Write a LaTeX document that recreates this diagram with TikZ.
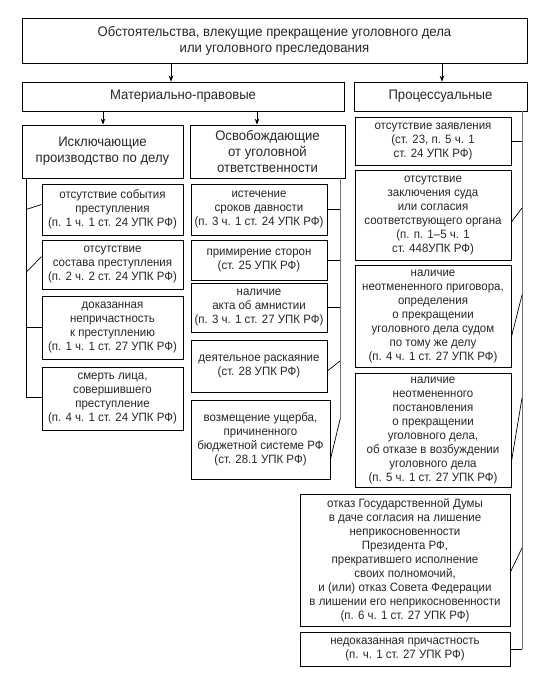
\documentclass[tikz,border=0pt]{standalone}
\usepackage{fontspec}
\setmainfont{Liberation Sans}[FakeStretch=0.95]
\usetikzlibrary{arrows.meta,calc}
\begin{document}
\begin{tikzpicture}[x=1pt,y=-1pt,
  box/.style={draw=black, line width=0.8pt, inner sep=0pt, align=center, text=black!85,
    font=\fontsize{12.1}{14}\selectfont},
  head/.style={box, font=\fontsize{13.8}{15.8}\selectfont},
  arr/.style={line width=0.7pt, -{Stealth[length=6pt,width=4.5pt]}},
  link/.style={line width=0.7pt},
  glink/.style={line width=0.8pt, draw=black!55}]
\useasboundingbox (0,0) rectangle (549,680);
% headers
\node[head, minimum width=505, minimum height=45] (top) at (274.5,40.5)
  {Обстоятельства, влекущие прекращение уголовного дела\\или уголовного преследования};
\node[head, minimum width=322, minimum height=29] (mat) at (183,96.5) {Материально-правовые};
\node[head, minimum width=173, minimum height=29] (proc) at (440.5,96.5) {Процессуальные};
\node[head, minimum width=161, minimum height=53] (iskl) at (102.5,151.5)
  {Исключающие\\производство по делу};
\node[head, minimum width=155, minimum height=53] (osv) at (267.5,151.5)
  {Освобождающие\\от уголовной\\ответственности};
% left column
\node[box, minimum width=141, minimum height=51] (L1) at (112.5,209.5)
  {отсутствие события\\преступления\\(п. 1 ч. 1 ст. 24 УПК РФ)};
\node[box, minimum width=141, minimum height=49] (L2) at (112.5,264.5)
  {отсутствие\\состава преступления\\(п. 2 ч. 2 ст. 24 УПК РФ)};
\node[box, minimum width=141, minimum height=63] (L3) at (112.5,327.5)
  {доказанная\\непричастность\\к преступлению\\(п. 1 ч. 1 ст. 27 УПК РФ)};
\node[box, minimum width=141, minimum height=63] (L4) at (112.5,398.5)
  {смерть лица,\\совершившего\\преступление\\(п. 4 ч. 1 ст. 24 УПК РФ)};
% middle column
\node[box, minimum width=136, minimum height=51] (M1) at (259,209.5)
  {истечение\\сроков давности\\(п. 3 ч. 1 ст. 24 УПК РФ)};
\node[box, minimum width=136, minimum height=40] (M2) at (259,260)
  {примирение сторон\\(ст. 25 УПК РФ)};
\node[box, minimum width=136, minimum height=49] (M3) at (259,307.5)
  {наличие\\акта об амнистии\\(п. 3 ч. 1 ст. 27 УПК РФ)};
\node[box, minimum width=136, minimum height=52] (M4) at (259,366)
  {деятельное раскаяние\\(ст. 28 УПК РФ)};
\node[box, minimum width=139, minimum height=79] (M5) at (260.5,439.5)
  {возмещение ущерба,\\причиненного\\бюджетной системе РФ\\(ст. 28.1 УПК РФ)};
% right column
\node[box, minimum width=156, minimum height=48] (R1) at (433,141)
  {отсутствие заявления\\(ст. 23, п. 5 ч. 1\\ст. 24 УПК РФ)};
\node[box, minimum width=156, minimum height=90] (R2) at (433,215)
  {отсутствие\\заключения суда\\или согласия\\соответствующего органа\\(п. п. 1–5 ч. 1\\ст. 448УПК РФ)};
\node[box, minimum width=156, minimum height=102] (R3) at (433,316)
  {наличие\\неотмененного приговора,\\определения\\о прекращении\\уголовного дела судом\\по тому же делу\\(п. 4 ч. 1 ст. 27 УПК РФ)};
\node[box, minimum width=156, minimum height=114] (R4) at (433,430)
  {наличие\\неотмененного\\постановления\\о прекращении\\уголовного дела,\\об отказе в возбуждении\\уголовного дела\\(п. 5 ч. 1 ст. 27 УПК РФ)};
\node[box, minimum width=210, minimum height=132] (R5) at (405,560)
  {отказ Государственной Думы\\в даче согласия на лишение\\неприкосновенности\\Президента РФ,\\прекратившего исполнение\\своих полномочий,\\и (или) отказ Совета Федерации\\в лишении его неприкосновенности\\(п. 6 ч. 1 ст. 27 УПК РФ)};
\node[box, minimum width=210, minimum height=34] (R6) at (405,649)
  {недоказанная причастность\\(п. ч. 1 ст. 27 УПК РФ)};
% arrow positions
\coordinate (a1) at (171,0);
\coordinate (a2) at (442,0);
\coordinate (a3) at (103,0);
\coordinate (a4) at (257,0);
\draw[arr] (top.south -| a1) -- (mat.north -| a1);
\draw[arr] (top.south -| a2) -- (proc.north -| a2);
\draw[arr] (mat.south -| a3) -- (iskl.north -| a3);
\draw[arr] (mat.south -| a4) -- (osv.north -| a4);
% left spine
\coordinate (sl) at (26,0);
\draw[link] (iskl.south -| sl) |- ([yshift=1pt]L4.west);
\draw[link] (sl |- L1.west) -- ([yshift=5pt]L1.west);
\draw[link] (sl |- L2.west) ++(0,8) -- ([yshift=8pt]L2.west);
\draw[link] (sl |- L3.west) -- (L3.west);
% middle spine
\coordinate (sm) at (340,0);
\draw[glink] (osv.south -| sm) -- (sm |- {$(M5.east)+(0,-20)$});
\draw[link] (sm |- M1.east) -- (M1.east);
\draw[link] (sm |- M2.east) -- (M2.east);
\draw[link] (sm |- M3.east) -- (M3.east);
\draw[link] (sm |- M4.east) ++(0,-5) -- ([yshift=-5pt]M4.east);
\draw[link] (sm |- {$(M5.east)+(0,-20)$}) -- ([yshift=-20pt]M5.east);
% right spine
\coordinate (sr) at (522,0);
\draw[glink] (proc.south -| sr) -- (sr |- R6.east);
\draw[link] (sr |- R1.east) -- (R1.east);
\draw[link] (sr |- R2.east) ++(0,-7) -- ([yshift=-7pt]R2.east);
\draw[link] (sr |- R3.east) ++(0,-21) -- ([yshift=-21pt]R3.east);
\draw[link] (sr |- R4.east) ++(0,-32) -- ([yshift=-32pt]R4.east);
\draw[link] (sr |- R5.east) ++(0,-12) -- ([yshift=-12pt]R5.east);
\draw[link] (sr |- R6.east) -- (R6.east);
\end{tikzpicture}
\end{document}
